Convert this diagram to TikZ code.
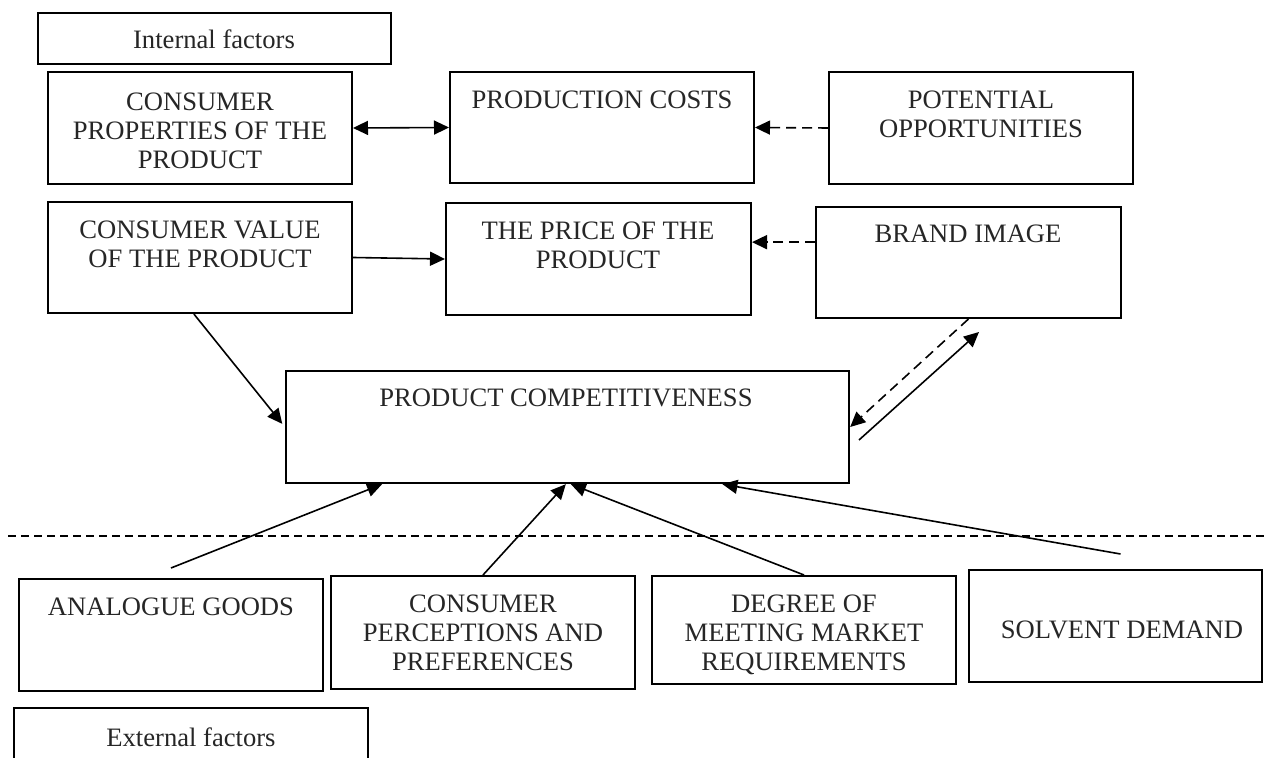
\documentclass[tikz,border=0pt]{standalone}
\usepackage{fontspec}
\setmainfont{Liberation Serif}
\usetikzlibrary{arrows.meta,fit,calc}
\begin{document}
\begin{tikzpicture}[x=0.5pt,y=-0.5pt,
  box/.style={draw, line width=1pt, inner sep=0pt},
  txt/.style={font=\fontsize{13.3}{14.6}\selectfont, align=center, inner sep=0pt, text=black!85},
  con/.style={line width=0.8pt},
  dsh/.style={dash pattern=on 5pt off 3pt},
  >={Triangle[length=7.5pt,width=7pt]}]
\clip (0,0) rectangle (1264,758);
% boxes
\node[box, fit={(38,13) (391,64)}] (intf) {};
\node[box, fit={(48,72) (352,184)}] (cp) {};
\node[box, fit={(450,72) (754,183)}] (pc) {};
\node[box, fit={(829,72) (1133,184)}] (pot) {};
\node[box, fit={(48,202) (352,313)}] (cv) {};
\node[box, fit={(446,203) (751,315)}] (pr) {};
\node[box, fit={(816,207) (1121,318)}] (bi) {};
\node[box, line width=1.2pt, fit={(286,371) (849,483)}] (comp) {};
\node[box, fit={(19,579) (323,691)}] (an) {};
\node[box, fit={(331,576) (635,689)}] (cpp) {};
\node[box, fit={(652,576) (956,684)}] (dg) {};
\node[box, fit={(969,570) (1262,682)}] (sd) {};
\node[box, fit={(14,708) (368,780)}] (extf) {};
% texts
\node[txt] (intft) at (214,39) {Internal factors};
\node[txt, anchor=north] (cpt) at (200,92) {CONSUMER\\PROPERTIES OF THE\\PRODUCT};
\node[txt, anchor=north] (pct) at (602,90) {PRODUCTION COSTS};
\node[txt, anchor=north] (pott) at (981,90) {POTENTIAL\\OPPORTUNITIES};
\node[txt, anchor=north] (cvt) at (200,220) {CONSUMER VALUE\\OF THE PRODUCT};
\node[txt, anchor=north] (prt) at (598,221) {THE PRICE OF THE\\PRODUCT};
\node[txt, anchor=north] (bit) at (968,224) {BRAND IMAGE};
\node[txt, anchor=north] (compt) at (566,388) {PRODUCT COMPETITIVENESS};
\node[txt, anchor=north] (ant) at (171,597) {ANALOGUE GOODS};
\node[txt, anchor=north] (cppt) at (483,594) {CONSUMER\\PERCEPTIONS AND\\PREFERENCES};
\node[txt, anchor=north] (dgt) at (804,594) {DEGREE OF\\MEETING MARKET\\REQUIREMENTS};
\node[txt] (sdt) at (1122,630) {SOLVENT DEMAND};
\node[txt] (extft) at (191,737) {External factors};
% separator
\draw[line width=0.7pt, dash pattern=on 4pt off 2.5pt] (8,536) -- (1264,536);
% connectors
\draw[con, <->] (cp.east) -- (pc.west);
\draw[con, dsh, ->] (pot.west) -- (pc.east);
\draw[con, ->] (cv.east) -- (pr.west);
\coordinate (bil) at ($(bi.north west)!0.32!(bi.south west)$);
\draw[con, dsh, ->] (bil) -- (pr.east |- bil);
\draw[con, ->, shorten >=2pt] ($(cv.south west)!0.48!(cv.south east)$) -- (comp.west);
\draw[con, dsh, ->] (bi.south) -- (comp.east);
\coordinate (r1) at (859,440);
\coordinate (r2) at (979,332);
\draw[con, ->] (r1) -- (r2);
\draw[con, ->] ([yshift=5pt]an.north) -- ($(comp.south west)!0.172!(comp.south east)$);
\draw[con, ->] (cpp.north) -- ($(comp.south west)!0.497!(comp.south east)$);
\draw[con, ->] (dg.north) -- ($(comp.south west)!0.506!(comp.south east)$);
\draw[con, ->] ([xshift=2.5pt,yshift=7.5pt]sd.north) -- ($(comp.south west)!0.774!(comp.south east)$);
\end{tikzpicture}
\end{document}
